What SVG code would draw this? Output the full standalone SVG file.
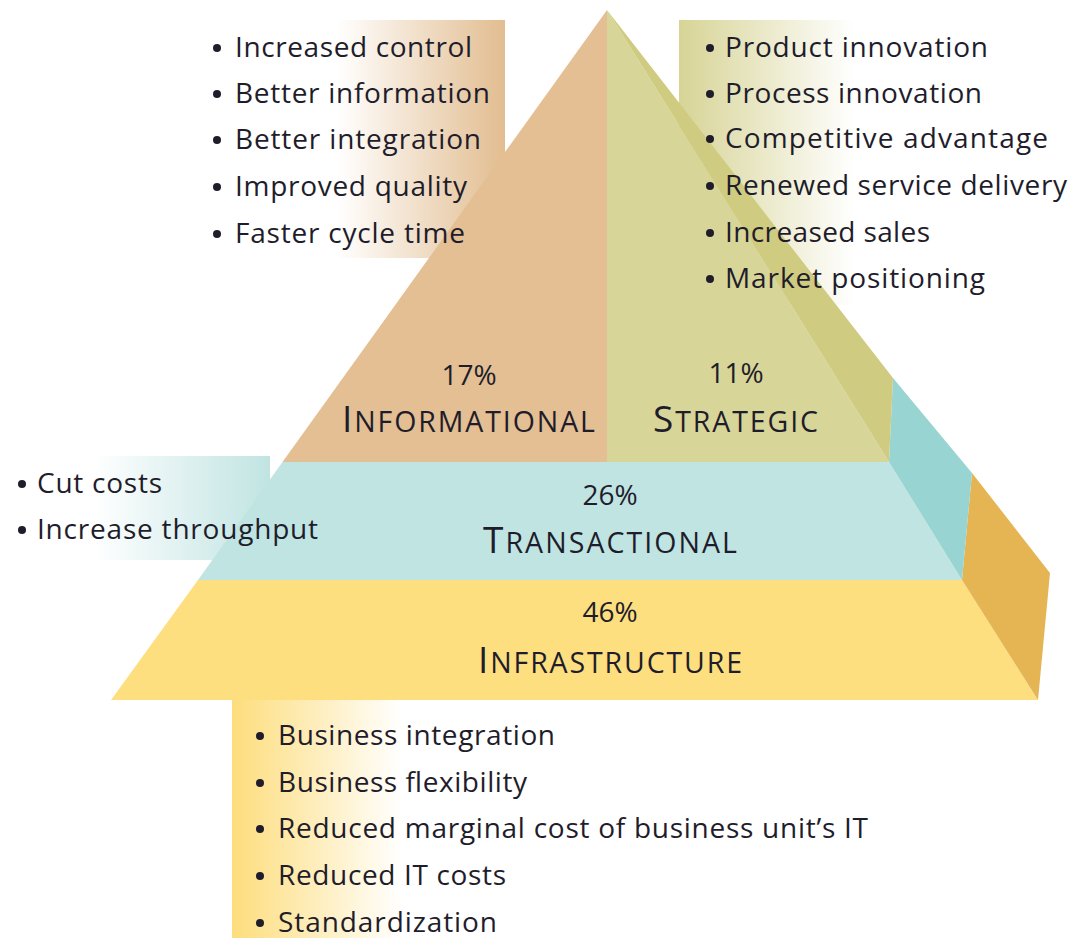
<svg xmlns="http://www.w3.org/2000/svg" width="1074" height="938" viewBox="0 0 1074 938">
<defs>
<style>
.t{font-family:"Open Sans","Liberation Sans",sans-serif;font-size:28px;font-weight:500;fill:#1f1d2b}
.lbl{font-family:"Open Sans","Liberation Sans",sans-serif;font-weight:500;fill:#1f1d2b}
.pct{font-size:28px}
.big{font-size:37px}
.sm{font-size:28.5px}
.b{fill:#1f1d2b}
</style>
<linearGradient id="gInfo" x1="0" y1="0" x2="1" y2="0"><stop offset="0" stop-color="#ffffff"/><stop offset="1" stop-color="#e2bd90"/></linearGradient>
<linearGradient id="gStrat" x1="0" y1="0" x2="1" y2="0"><stop offset="0" stop-color="#d7d496"/><stop offset="1" stop-color="#ffffff"/></linearGradient>
<linearGradient id="gTrans" x1="0" y1="0" x2="1" y2="0"><stop offset="0" stop-color="#ffffff"/><stop offset="1" stop-color="#c0e4e2"/></linearGradient>
<linearGradient id="gInfra" x1="0" y1="0" x2="1" y2="0"><stop offset="0" stop-color="#fddd7c"/><stop offset="1" stop-color="#ffffff"/></linearGradient>
</defs>
<rect width="1074" height="938" fill="#ffffff"/>

<g id="list-boxes">
<rect x="337" y="20" width="168" height="238" fill="url(#gInfo)"/>
<rect x="679" y="20" width="175" height="285" fill="url(#gStrat)"/>
<rect x="93" y="456" width="177" height="104" fill="url(#gTrans)"/>
<rect x="232" y="700" width="170" height="238" fill="url(#gInfra)"/>
</g>

<g id="infrastructure">
<polygon points="198,580 962,580 1038,700 111,700" fill="#fddf80"/>
<polygon points="962,580 972,473 1050,573 1038,700" fill="#e5b453"/>
<text class="lbl" x="610" y="622" text-anchor="middle"><tspan class="pct">46%</tspan></text>
<text class="lbl" x="478" y="673" textLength="264"><tspan class="big">I</tspan><tspan class="sm">NFRASTRUCTURE</tspan></text>
</g>

<g id="transactional">
<polygon points="282.5,462 889,462 962,580 198,580" fill="#c0e4e2"/>
<polygon points="889,462 893,378 972,473 962,580" fill="#98d4d1"/>
<text class="lbl" x="610" y="505" text-anchor="middle"><tspan class="pct">26%</tspan></text>
<text class="lbl" x="483" y="553" textLength="254"><tspan class="big">T</tspan><tspan class="sm">RANSACTIONAL</tspan></text>
</g>

<g id="informational">
<polygon points="607,10 607,462 282.5,462" fill="#e3bf93"/>
<text class="lbl" x="469" y="385" text-anchor="middle"><tspan class="pct">17%</tspan></text>
<text class="lbl" x="342" y="432" textLength="253"><tspan class="big">I</tspan><tspan class="sm">NFORMATIONAL</tspan></text>
</g>

<g id="strategic">
<polygon points="607,10 889,462 607,462" fill="#d8d598"/>
<polygon points="607,10 893,378 889,462" fill="#cfcb80"/>
<text class="lbl" x="736" y="383" text-anchor="middle"><tspan class="pct">11%</tspan></text>
<text class="lbl" x="653" y="432" textLength="165"><tspan class="big">S</tspan><tspan class="sm">TRATEGIC</tspan></text>
</g>

<g id="informational-list">
<circle class="b" cx="217" cy="48" r="4"/><text class="t" x="235" y="57" textLength="237">Increased control</text>
<circle class="b" cx="217" cy="94" r="4"/><text class="t" x="235" y="103" textLength="255">Better information</text>
<circle class="b" cx="217" cy="140" r="4"/><text class="t" x="235" y="149" textLength="246">Better integration</text>
<circle class="b" cx="217" cy="187" r="4"/><text class="t" x="235" y="196" textLength="232">Improved quality</text>
<circle class="b" cx="217" cy="234" r="4"/><text class="t" x="235" y="243" textLength="230">Faster cycle time</text>
</g>

<g id="strategic-list">
<circle class="b" cx="710" cy="48" r="4"/><text class="t" x="725" y="57" textLength="263">Product innovation</text>
<circle class="b" cx="710" cy="94" r="4"/><text class="t" x="725" y="103" textLength="257">Process innovation</text>
<circle class="b" cx="710" cy="139" r="4"/><text class="t" x="725" y="148" textLength="323">Competitive advantage</text>
<circle class="b" cx="710" cy="186" r="4"/><text class="t" x="725" y="195" textLength="342">Renewed service delivery</text>
<circle class="b" cx="710" cy="233" r="4"/><text class="t" x="725" y="242" textLength="205">Increased sales</text>
<circle class="b" cx="710" cy="279" r="4"/><text class="t" x="725" y="288" textLength="260">Market positioning</text>
</g>

<g id="transactional-list">
<circle class="b" cx="22" cy="484" r="4"/><text class="t" x="37" y="493" textLength="125">Cut costs</text>
<circle class="b" cx="22" cy="530" r="4"/><text class="t" x="37" y="539" textLength="281">Increase throughput</text>
</g>

<g id="infrastructure-list">
<circle class="b" cx="260" cy="736" r="4"/><text class="t" x="278" y="745" textLength="277">Business integration</text>
<circle class="b" cx="260" cy="783" r="4"/><text class="t" x="278" y="792" textLength="249">Business flexibility</text>
<circle class="b" cx="260" cy="829" r="4"/><text class="t" x="278" y="838" textLength="590">Reduced marginal cost of business unit’s IT</text>
<circle class="b" cx="260" cy="876" r="4"/><text class="t" x="278" y="885" textLength="228">Reduced IT costs</text>
<circle class="b" cx="260" cy="923" r="4"/><text class="t" x="278" y="932" textLength="219">Standardization</text>
</g>
</svg>
